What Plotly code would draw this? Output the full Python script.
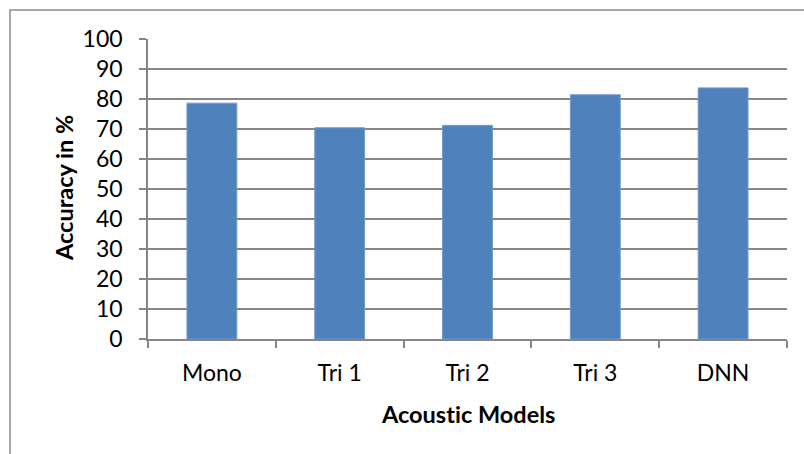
import plotly.graph_objects as go

# Recognition accuracy per acoustic model
models = ["Mono", "Tri 1", "Tri 2", "Tri 3", "DNN"]
accuracy = [78.6, 70.4, 71.2, 81.4, 83.7]
y_ticks = [0, 10, 20, 30, 40, 50, 60, 70, 80, 90, 100]

FONT = "Lato, 'Open Sans', sans-serif"
GRID = "#868686"

fig = go.Figure(
    go.Bar(
        x=models,
        y=accuracy,
        marker=dict(color="#4F81BD", line=dict(color="#6C98D0", width=1)),
        width=0.39,
    )
)

fig.update_layout(
    width=804,
    height=454,
    margin=dict(l=148, r=17, t=39, b=115),
    plot_bgcolor="white",
    paper_bgcolor="white",
    showlegend=False,
    font=dict(family=FONT, size=23, color="black"),
    bargap=0.61,
)

fig.update_xaxes(
    type="category",
    showline=True,
    linecolor=GRID,
    linewidth=1.5,
    ticks="outside",
    tickson="boundaries",
    ticklen=7,
    tickcolor=GRID,
    tickwidth=1.5,
    showgrid=False,
    tickfont=dict(family=FONT, size=23),
    ticklabelstandoff=13,
)

fig.update_yaxes(
    range=[0, 100],
    tickvals=y_ticks,
    showline=True,
    linecolor=GRID,
    linewidth=1.5,
    ticks="outside",
    ticklen=7,
    tickcolor=GRID,
    tickwidth=1.5,
    showgrid=True,
    gridcolor=GRID,
    gridwidth=1.5,
    zeroline=False,
    tickfont=dict(family=FONT, size=23),
    ticklabelstandoff=12,
)

# Axis titles (zero-width non-joiner keeps "ti" from forming a ligature)
fig.add_annotation(
    text="<b>Accuracy in %</b>", xref="paper", yref="paper",
    x=(64 - 148) / 639, y=(339 - 188) / 300, showarrow=False,
    textangle=-90, font=dict(family=FONT, size=23.5), xanchor="center", yanchor="middle",
)
fig.add_annotation(
    text="<b>Acoust\u200cic Models</b>", xref="paper", yref="paper",
    x=(468 - 148) / 639, y=(339 - 414) / 300, showarrow=False,
    font=dict(family=FONT, size=23.5), xanchor="center", yanchor="middle",
)

# Chart-area frame
fig.add_shape(
    type="rect", xref="paper", yref="paper",
    x0=(10 - 148) / 639, x1=(820 - 148) / 639,
    y0=(339 - 470) / 300, y1=(339 - 10) / 300,
    line=dict(color="#8C8C8C", width=1.5), fillcolor="rgba(0,0,0,0)",
    layer="below",
)

fig.write_html("out.html")
